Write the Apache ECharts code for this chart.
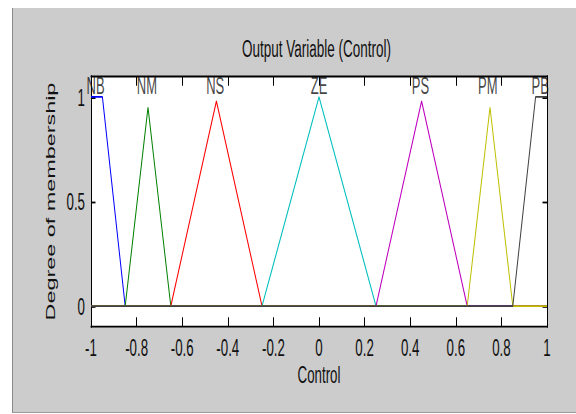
<!DOCTYPE html>
<html>
<head>
<meta charset="utf-8">
<script src="https://cdn.jsdelivr.net/npm/echarts@6/dist/echarts.min.js"></script>
<style>
  html, body { margin: 0; padding: 0; background: #fff; }
  #panel {
    position: absolute; left: 12px; top: 8px; width: 564px; height: 405px;
    background: #cccccc; border-left: 1px solid #8a8a8a; border-bottom: 1px solid #9a9a9a;
    box-sizing: border-box;
  }
  /* the reference picture is stretched vertically, so the chart is drawn flat and scaled */
  #chart {
    position: absolute; left: 0; top: 0; width: 576px; height: 230px;
    transform: scaleY(1.8); transform-origin: 0 0;
  }
</style>
</head>
<body>
<div id="panel"></div>
<div id="chart"></div>
<script>
// membership functions, vertices
const mfNames = ['NB', 'NM', 'NS', 'ZE', 'PS', 'PM', 'PB'];
const nbX = [-1, -0.95, -0.85, 1];
const nbY = [1, 1, 0, 0];
const nmX = [-1, -0.85, -0.75, -0.65, 1];
const nmY = [0, 0, 0.95, 0, 0];
const nsX = [-1, -0.65, -0.45, -0.25, 1];
const nsY = [0, 0, 0.98, 0, 0];
const zeX = [-1, -0.25, 0, 0.25, 1];
const zeY = [0, 0, 1, 0, 0];
const psX = [-1, 0.25, 0.45, 0.65, 1];
const psY = [0, 0, 0.98, 0, 0];
const pmX = [-1, 0.65, 0.75, 0.85, 1];
const pmY = [0, 0, 0.95, 0, 0];
const pbX = [-1, 0.85, 0.95, 1];
const pbY = [0, 0, 1, 1];

// where the names sit
const labelX = [-0.98, -0.755, -0.455, 0, 0.445, 0.74, 0.97];
const labelY = [1.05, 1.05, 1.05, 1.05, 1.05, 1.05, 1.05];

const yTickValues = [0, 0.5, 1];

const mfColors = ['#0000ff', '#008000', '#ff0000', '#00bfbf', '#bf00bf', '#bfbf00', '#404040'];
const font = 'Liberation Sans, Arial, sans-serif';

const chart = echarts.init(document.getElementById('chart'), null, { renderer: 'svg' });

const xs = [nbX, nmX, nsX, zeX, psX, pmX, pbX];
const ys = [nbY, nmY, nsY, zeY, psY, pmY, pbY];

const series = mfNames.map((name, i) => ({
    name,
    type: 'line',
    data: xs[i].map((x, j) => [x, ys[i][j]]),
    showSymbol: false,
    lineStyle: { color: mfColors[i], width: 1 },
    itemStyle: { color: mfColors[i] },
    animation: false
}));

series.push({
    name: 'names',
    type: 'scatter',
    symbolSize: 0,
    data: mfNames.map((name, i) => ({ name, value: [labelX[i], labelY[i]] })),
    label: {
        show: true,
        position: 'inside',
        formatter: '{b}',
        color: '#111',
        fontFamily: font,
        fontSize: 13
    },
    z: 5,
    animation: false
});

const plainAxis = {
    axisLine: { onZero: false, lineStyle: { color: '#000', width: 1 } },
    splitLine: { show: false }
};

chart.setOption({
    backgroundColor: 'transparent',
    title: {
        text: 'Output Variable (Control)',
        left: 242,
        top: 20,
        padding: 0,
        textStyle: { fontFamily: font, fontSize: 13.5, fontWeight: 'normal', color: '#111' }
    },
    grid: {
        left: 91,
        right: 29,
        top: 42.2,
        bottom: 48.3,
        show: true,
        backgroundColor: '#fff',
        borderWidth: 0
    },
    xAxis: [
        {
            ...plainAxis,
            type: 'value',
            position: 'bottom',
            min: -1,
            max: 1,
            interval: 0.2,
            name: 'Control',
            nameLocation: 'middle',
            nameGap: 19.5,
            nameMoveOverlap: false,
            nameTextStyle: { fontFamily: font, fontSize: 13.3, color: '#111' },
            axisTick: { inside: true, length: 5.5, lineStyle: { color: '#000' } },
            axisLabel: { margin: 5, fontFamily: font, fontSize: 13.3, color: '#111' }
        },
        {
            ...plainAxis,
            type: 'value',
            position: 'top',
            min: -1,
            max: 1,
            interval: 0.2,
            axisTick: { inside: true, length: 5.5, lineStyle: { color: '#000' } },
            axisLabel: { show: false }
        }
    ],
    yAxis: [
        {
            ...plainAxis,
            type: 'value',
            position: 'left',
            min: -0.1,
            max: 1.1,
            name: 'Degree of membership',
            nameLocation: 'middle',
            nameGap: 34,
            nameMoveOverlap: false,
            nameTextStyle: { fontFamily: font, fontSize: 13, color: '#111' },
            axisTick: { inside: true, length: 4.5, customValues: yTickValues, lineStyle: { color: '#000' } },
            axisLabel: { margin: 6, customValues: yTickValues, fontFamily: font, fontSize: 13.3, color: '#111' }
        },
        {
            ...plainAxis,
            type: 'value',
            position: 'right',
            min: -0.1,
            max: 1.1,
            axisTick: { inside: true, length: 4.5, customValues: yTickValues, lineStyle: { color: '#000' } },
            axisLabel: { show: false }
        }
    ],
    series
});
</script>
</body>
</html>
